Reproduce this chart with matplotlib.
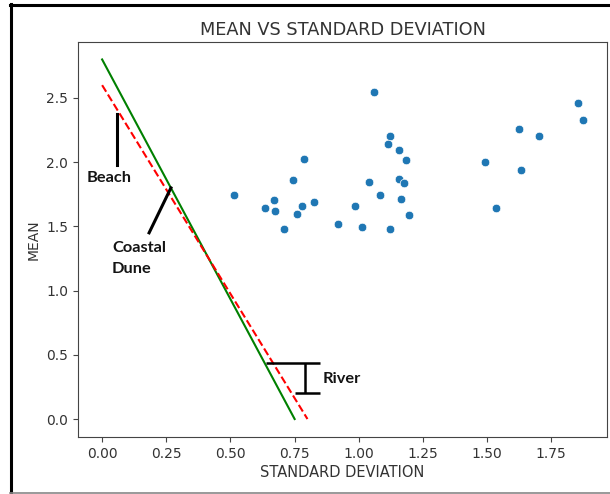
import matplotlib
matplotlib.use("Agg")
import matplotlib.pyplot as plt
from matplotlib.lines import Line2D

# Sample statistics: standard deviation (x) and mean (y)
std_dev = [1.060, 1.122, 1.115, 1.156, 1.184, 0.786, 0.744, 1.039, 1.158, 1.176,
           0.514, 1.083, 0.827, 1.163, 0.670, 0.636, 0.674, 0.779, 0.985, 0.759,
           1.196, 0.707, 0.918, 1.013, 1.121, 1.853, 1.873, 1.623, 1.702, 1.491,
           1.632, 1.534]
mean = [2.547, 2.207, 2.139, 2.098, 2.017, 2.025, 1.864, 1.848, 1.867, 1.836,
        1.747, 1.747, 1.690, 1.716, 1.708, 1.643, 1.622, 1.659, 1.656, 1.599,
        1.591, 1.482, 1.516, 1.498, 1.482, 2.464, 2.331, 2.256, 2.207, 1.999,
        1.939, 1.643]

# Discriminant lines (endpoints)
green_x = [0.0, 0.75]
green_y = [2.8, 0.0]
red_x = [0.0, 0.8]
red_y = [2.6, 0.0]

# Environment labels and their leader lines
beach_line_x = [0.058, 0.058]
beach_line_y = [2.375, 1.98]
beach_text = (-0.062, 1.88)
dune_line_x = [0.268, 0.183]
dune_line_y = [1.80, 1.45]
dune_text = (0.038, 1.25)
river_top_x = [0.64, 0.85]
river_top_y = 0.436
river_bot_x = [0.75, 0.85]
river_bot_y = 0.20
river_mid_x = 0.79
river_text = (0.86, 0.31)

text_gray = "#333333"
plt.rcParams.update({
    "text.color": text_gray,
    "axes.labelcolor": text_gray,
    "xtick.color": "#444444",
    "ytick.color": "#444444",
    "xtick.labelcolor": text_gray,
    "ytick.labelcolor": text_gray,
    "axes.edgecolor": "#444444",
})

W, H = 610, 494
fig = plt.figure(figsize=(W / 100, H / 100), dpi=100)
ax = fig.add_axes([78 / W, 1 - 437 / H, (607 - 78) / W, (437 - 42) / H])

ax.scatter(std_dev, mean, s=38, color="#1f77b4", edgecolors="white", linewidths=0.5, zorder=3)
ax.plot(green_x, green_y, color="green", lw=1.5)
ax.plot(red_x, red_y, color="red", lw=1.5, ls="--")

ann_font = dict(family=["Lato", "DejaVu Sans"], fontweight="bold", fontsize=11.8, color="#141414")
ax.plot(beach_line_x, beach_line_y, color="black", lw=2.2)
ax.text(*beach_text, "Beach", ha="left", va="center", **ann_font)
ax.plot(dune_line_x, dune_line_y, color="black", lw=2.2)
ax.text(*dune_text, "Coastal\nDune", ha="left", va="center", linespacing=1.65, **ann_font)
ax.hlines(river_top_y, *river_top_x, color="black", lw=1.8)
ax.hlines(river_bot_y, *river_bot_x, color="black", lw=1.8)
ax.vlines(river_mid_x, river_bot_y, river_top_y, color="black", lw=1.8)
ax.text(*river_text, "River", ha="left", va="center", **ann_font)

ax.set_xticks([0.0, 0.25, 0.5, 0.75, 1.0, 1.25, 1.5, 1.75])
ax.set_xticklabels(["0.00", "0.25", "0.50", "0.75", "1.00", "1.25", "1.50", "1.75"])
ax.set_yticks([0.0, 0.5, 1.0, 1.5, 2.0, 2.5])
ax.set_xlim(-0.094, 1.967)
ax.set_ylim(-0.14, 2.936)
ax.set_xlabel("STANDARD DEVIATION", fontsize=10.5, labelpad=3)
ax.set_ylabel("MEAN", fontsize=10)
ax.set_title("MEAN VS STANDARD DEVIATION", fontsize=12.8, pad=5)

# Frame around the figure
fig.add_artist(Line2D([10.5 / W, 10.5 / W], [0, 1 - 4 / H], color="black", lw=2.2, transform=fig.transFigure))
fig.add_artist(Line2D([9.5 / W, 1], [1 - 5 / H, 1 - 5 / H], color="black", lw=2.2, transform=fig.transFigure))
fig.add_artist(Line2D([9.5 / W, 1], [1.5 / H, 1.5 / H], color="#888888", lw=1.2, transform=fig.transFigure))

fig.savefig("out.png", dpi=100)
